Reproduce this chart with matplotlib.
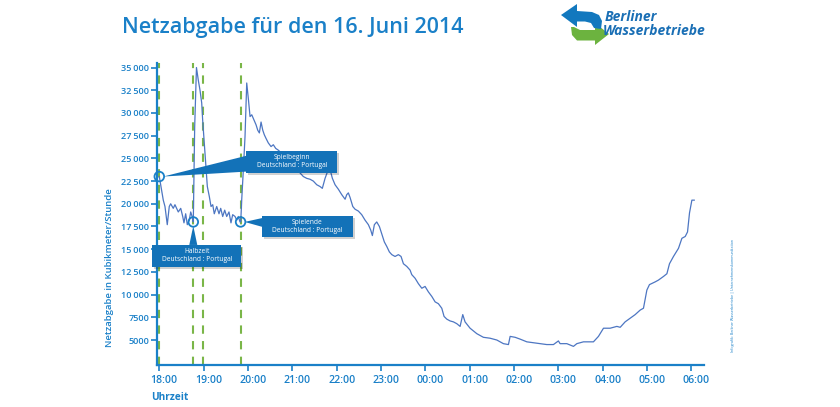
import numpy as np
import matplotlib
matplotlib.use("Agg")
import matplotlib.pyplot as plt
from matplotlib.patches import Polygon, Rectangle, Circle
from matplotlib.transforms import IdentityTransform, ScaledTranslation

# ---------------- data ----------------
# minutes after 18:00 (16 June 2014)
minutes = [0, 5.4, 7.7, 10.8, 13.5, 15.4, 18.9, 21.2, 25.7, 29.0,
           31.7, 33.4, 35.7, 37.9, 40.6, 42.5, 45.2, 46.0, 47.9, 50.3,
           52.8, 55.1, 57.4, 58.7, 60.9, 63.2, 65.0, 67.7, 70.0, 72.3,
           74.4, 77.7, 80.8, 83.1, 85.8, 88.5, 91.2, 94.3, 97.0, 99.3,
           102.5, 104.8, 106.9, 109.2, 110.2, 111.5, 113.7, 116.0, 118.3, 120.7,
           122.8, 125.1, 128.2, 130.9, 133.2, 135.4, 137.7, 140.0, 142.1, 144.4,
           147.5, 151.2, 154.3, 157.5, 161.1, 168.8, 179.6,
           190.4, 194.9, 199.5, 204.0, 208.4, 213.0, 217.5, 220.6, 224.3, 227.9,
           230.6, 234.2, 237.8, 242.3, 246.9, 251.4, 253.6, 255.8, 258.1, 261.8,
           264.9, 269.3, 273.9, 278.4, 282.9, 286.1, 288.3, 291.0, 294.2, 297.8,
           301.0, 304.5, 307.8, 311.3, 314.6, 319.0, 323.5, 327.1, 330.3, 334.9,
           339.3, 341.6, 346.1, 350.6, 355.2, 359.6, 364.1, 368.7, 373.2, 377.6,
           382.2, 385.3, 389.0, 393.5, 397.9, 402.5, 407.0, 410.6, 413.7, 420.5,
           429.6, 438.5, 447.5, 456.7, 465.6, 472.4, 474.7, 481.4, 488.2, 497.3,
           506.2, 515.3, 524.3, 533.3, 540.0, 542.3, 551.4, 560.4, 564.9, 573.9,
           587.4, 594.2, 601.0, 610.0, 619.1, 623.6, 630.3, 637.1, 643.9, 650.7,
           655.1, 659.7, 663.2, 670.9, 675.4, 682.2, 686.8, 690.3, 695.7, 702.5,
           707.1, 711.6, 714.7, 717.4, 720.6, 723.8]

# Netzabgabe in m³/h
values = [23000, 20400, 19700, 17700, 19700, 20000, 19500, 19900, 19100, 19500,
          18600, 17900, 18900, 17700, 18200, 19100, 18400, 18000, 28500, 35000,
          33600, 32500, 31100, 29200, 26700, 24100, 21900, 20800, 19700, 19900,
          18900, 19700, 18900, 19500, 18600, 19300, 18600, 19100, 17900, 18800,
          18600, 18200, 18600, 18000, 18000, 20400, 23700, 27400, 33300, 31400,
          29600, 29800, 29200, 28700, 28100, 27800, 29000, 28100, 27600, 27200,
          26700, 26300, 26500, 26100, 25900, 25300, 24300,
          23400, 23000, 22800, 22700, 22500, 22100, 21900, 21700, 22800, 23600,
          23900, 22800, 22100, 21600, 21000, 20500, 21000, 21200, 20700, 19700,
          19400, 19200, 18800, 18200, 17700, 17100, 16500, 17700, 18000, 17500,
          16700, 15800, 15300, 14700, 14400, 14200, 14400, 14200, 13400, 13100,
          12700, 12200, 11800, 11200, 10700, 10900, 10300, 9800, 9200, 9000,
          8500, 7600, 7300, 7100, 7000, 6800, 6500, 7800, 7000, 6300,
          5700, 5300, 5200, 5000, 4600, 4500, 5400, 5300, 5100, 4800,
          4700, 4600, 4500, 4500, 4900, 4600, 4600, 4300, 4600, 4800,
          4800, 5400, 6300, 6300, 6500, 6400, 7000, 7400, 7800, 8300,
          8500, 10500, 11100, 11400, 11600, 12000, 12300, 13400, 14200, 15100,
          16200, 16400, 16900, 19000, 20400, 20400]

x_tick_minutes = [0, 60, 120, 180, 240, 300, 360, 420, 480, 540, 600, 660, 720]
x_tick_labels = ["18:00", "19:00", "20:00", "21:00", "22:00", "23:00", "00:00",
                 "01:00", "02:00", "03:00", "04:00", "05:00", "06:00"]
y_ticks = [5000, 7500, 10000, 12500, 15000, 17500, 20000, 22500,
           25000, 27500, 30000, 32500, 35000]
y_tick_labels = ["5000", "7500", "10\u2009000", "12\u2009500", "15\u2009000",
                 "17\u2009500", "20\u2009000", "22\u2009500", "25\u2009000",
                 "27\u2009500", "30\u2009000", "32\u2009500", "35\u2009000"]

# green dashed markers: kick-off, half-time, restart, final whistle
marker_minutes = [0, 45, 59, 110]
# annotated events
event_minutes = [0, 46, 110]
event_values = [23000, 18000, 18000]
event_titles = ["Spielbeginn", "Halbzeit", "Spielende"]
match_label = "Deutschland : Portugal"

# ---------------- style ----------------
BLUE = "#1a80c8"
LINE = "#4d76c2"
GREEN = "#7ab648"
BOX = "#1372b8"
FONT = ["Open Sans", "DejaVu Sans"]
plt.rcParams["font.family"] = FONT

W, H = 840, 407
fig = plt.figure(figsize=(W / 100, H / 100), dpi=100)
fig.patch.set_facecolor("white")

ax_l, ax_r, ax_t, ax_b = 156.7, 704, 63, 365
ax = fig.add_axes([ax_l / W, 1 - ax_b / H, (ax_r - ax_l) / W, (ax_b - ax_t) / H])
ax.set_facecolor("none")
ax.set_xlim(-3.5, 737)
ax.set_ylim(2250, 35500)

for m in marker_minutes:
    ax.axvline(m, color=GREEN, lw=1.5, dashes=(4, 3.5), zorder=1)

ax.plot(minutes, values, color=LINE, lw=0.9, zorder=2)

for s in ["top", "right"]:
    ax.spines[s].set_visible(False)
for s in ["left", "bottom"]:
    ax.spines[s].set_color(BLUE)
    ax.spines[s].set_linewidth(1.6)

ax.set_xticks(x_tick_minutes)
ax.set_xticklabels(x_tick_labels)
ax.set_yticks(y_ticks)
ax.set_yticklabels(y_tick_labels)
ax.tick_params(axis="both", direction="out", length=4, width=1.2, color=BLUE,
               labelcolor=BLUE, labelsize=6.6)
ax.tick_params(axis="x", pad=3, labelsize=7.6)
ax.tick_params(axis="y", pad=1.5)
for lab in ax.get_xticklabels():
    lab.set_transform(lab.get_transform() + ScaledTranslation(0.05, 0, fig.dpi_scale_trans))
    lab.set_fontweight("semibold")
for lab in ax.get_yticklabels():
    lab.set_fontweight("semibold")

# ---------------- annotations ----------------
# layout per event: box (left, right, bottom, top) and wedge (apex, base1, base2), px offsets
layouts = [
    dict(box=(87, 178, 4, 26), wedge=[(4, 0), (88, 21), (88, 5)]),
    dict(box=(-41, 48, -45, -23), wedge=[(0, -4), (-4, -23), (4, -23)]),
    dict(box=(21, 112, -15, 6), wedge=[(4, 0), (22, 4), (22, -5)]),
]
ident = IdentityTransform()
for t, v, title, lay in zip(event_minutes, event_values, event_titles, layouts):
    px, py = ax.transData.transform((t, v))
    l, r, b, tp = lay["box"]
    fig.add_artist(Rectangle((px + l + 2, py + b - 2), r - l, tp - b, transform=ident,
                             facecolor="#000000", alpha=0.18, lw=0, zorder=4))
    fig.add_artist(Polygon([(px + dx, py + dy) for dx, dy in lay["wedge"]], closed=True,
                           transform=ident, facecolor=BOX, lw=0, zorder=5))
    fig.add_artist(Rectangle((px + l, py + b), r - l, tp - b, transform=ident,
                             facecolor=BOX, lw=0, zorder=5))
    cx, cy = px + (l + r) / 2, py + (b + tp) / 2
    fig.text(cx / W, (cy + 4) / H, title, color="white", fontsize=4.8,
             ha="center", va="center", zorder=6)
    fig.text(cx / W, (cy - 4) / H, match_label, color="white", fontsize=4.8,
             ha="center", va="center", zorder=6)
    fig.add_artist(Circle((px, py), 4.8, transform=ident, fill=False,
                          edgecolor=BLUE, lw=1.3, zorder=6))

# ---------------- texts ----------------
fig.text(122 / W, 1 - 27 / H, "Netzabgabe für den 16. Juni 2014", color=BLUE,
         fontsize=15.5, fontweight="semibold", ha="left", va="center")
fig.text(109 / W, 1 - 267.5 / H, "Netzabgabe in Kubikmeter/Stunde", color=BLUE,
         fontsize=6.8, fontweight="semibold", rotation=90, ha="center", va="center")
fig.text(151 / W, 1 - 397 / H, "Uhrzeit", color=BLUE, fontsize=7.3,
         fontweight="bold", ha="left", va="center")
fig.text(733 / W, 1 - 296 / H,
         "Infografik: Berliner Wasserbetriebe | Unternehmenskommunikation",
         color=BLUE, fontsize=2.6, rotation=90, ha="center", va="center")

# ---------------- logo ----------------
def top_px(pts):
    return [(x, H - y) for x, y in pts]

blue_arrow = top_px([(561, 15), (577, 4), (577, 11), (592, 12), (599, 15), (602, 21),
                     (601, 29), (594, 28), (591, 23), (585, 21.5), (577, 21.5), (577, 27)])
green_arrow = top_px([(609, 34), (595, 23), (595, 30), (580, 30), (574, 27), (571, 27),
                      (572, 35), (577, 40.5), (595, 40.5), (595, 45)])
fig.add_artist(Polygon(green_arrow, closed=True, transform=ident, facecolor="#6cb33f", lw=0))
fig.add_artist(Polygon(blue_arrow, closed=True, transform=ident, facecolor="#1278be", lw=0))
fig.text(605 / W, 1 - 17 / H, "Berliner", color="#1a6fb5", fontsize=10,
         fontweight="bold", fontstyle="italic", ha="left", va="center")
fig.text(603 / W, 1 - 31 / H, "Wasserbetriebe", color="#1a6fb5", fontsize=10,
         fontweight="bold", fontstyle="italic", ha="left", va="center")

fig.savefig("out.png", dpi=100)
